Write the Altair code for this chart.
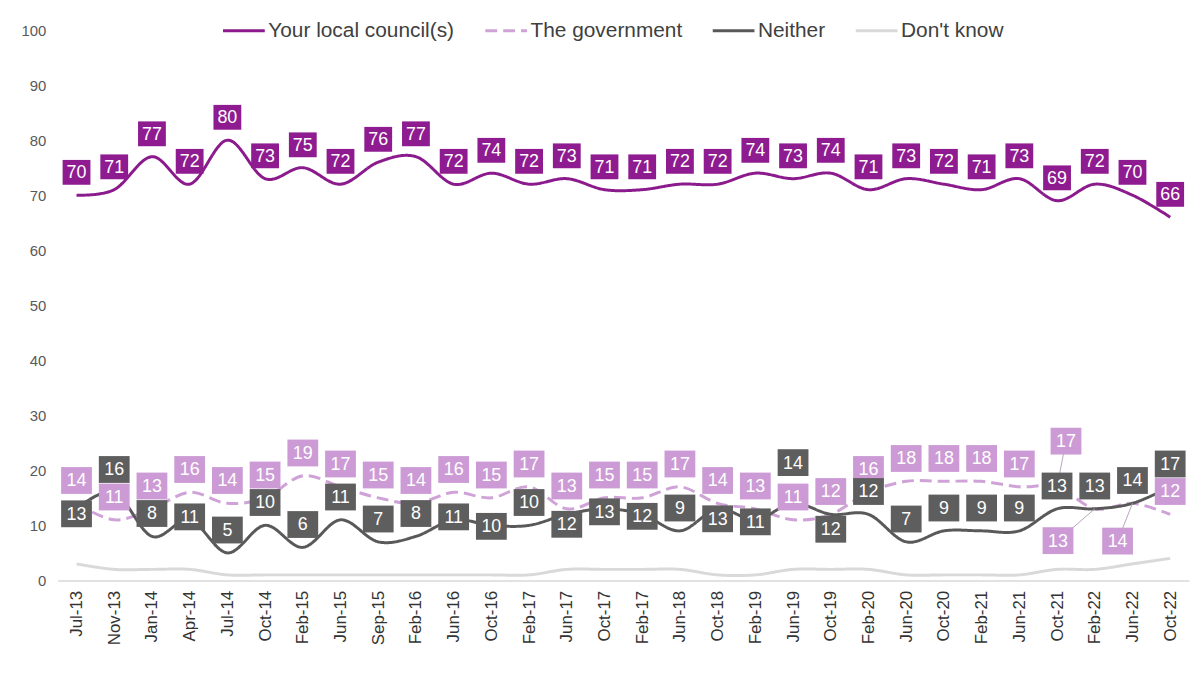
import json
import altair as alt
import pandas as pd

# ---------------- data ----------------
months = ["Jul-13", "Nov-13", "Jan-14", "Apr-14", "Jul-14", "Oct-14", "Feb-15", "Jun-15",
          "Sep-15", "Feb-16", "Jun-16", "Oct-16", "Feb-17", "Jun-17", "Oct-17", "Feb-17",
          "Jun-18", "Oct-18", "Feb-19", "Jun-19", "Oct-19", "Feb-20", "Jun-20", "Oct-20",
          "Feb-21", "Jun-21", "Oct-21", "Feb-22", "Jun-22", "Oct-22"]

council = [70, 71, 77, 72, 80, 73, 75, 72, 76, 77, 72, 74, 72, 73, 71, 71, 72, 72, 74, 73,
           74, 71, 73, 72, 71, 73, 69, 72, 70, 66]
government = [14, 11, 13, 16, 14, 15, 19, 17, 15, 14, 16, 15, 17, 13, 15, 15, 17, 14, 13, 11,
              12, 16, 18, 18, 18, 17, 17, 13, 14, 12]
neither = [13, 16, 8, 11, 5, 10, 6, 11, 7, 8, 11, 10, 10, 12, 13, 12, 9, 13, 11, 14,
           12, 12, 7, 9, 9, 9, 13, 13, 14, 17]
dont_know = [3, 2, 2, 2, 1, 1, 1, 1, 1, 1, 1, 1, 1, 2, 2, 2, 2, 1, 1, 2,
             2, 2, 1, 1, 1, 1, 2, 2, 3, 4]

SERIES = ["Your local council(s)", "The government", "Neither", "Don't know"]

# ---------------- styling ----------------
W, H = 1139, 554
BAND_PX = W / len(months)
PX_PER_UNIT = H / 100.0
LINE_COLORS = ["#8B1A8C", "#CFA3D7", "#595959", "#D9D9D9"]
LINE_DASH = [[1, 0], [12, 6], [1, 0], [1, 0]]
LINE_WIDTH = [3, 3, 2.8, 2.8]
BOX_COLORS = {"Your local council(s)": "#8E1B8F", "The government": "#CC9BD5", "Neither": "#5E5E5E"}
DEFAULT_DY = -23  # label boxes sit above their point (pixels)
# pixel nudges for the data labels that were moved in the original
label_nudge = {
    "Neither": {0: (0, 5), 3: (0, -3), 10: (0, -3), 11: (0, 1), 13: (0, 10), 14: (0, 3),
                15: (0, 2), 17: (0, 10), 18: (0, 2), 19: (0, -41), 20: (0, 15)},
    "The government": {26: (9, -46), 27: (-37, 32), 28: (-15, 38)},
}
leader_labels = {"The government": [26, 27, 28]}

series_values = {"Your local council(s)": council, "The government": government,
                 "Neither": neither, "Don't know": dont_know}

lines_rows = []
for s in SERIES:
    for i, v in enumerate(series_values[s]):
        lines_rows.append({"i": i, "value": v, "series": s})
lines_df = pd.DataFrame(lines_rows)


def label_df(s):
    rows = []
    for i, v in enumerate(series_values[s]):
        dx, dy = label_nudge.get(s, {}).get(i, (0, DEFAULT_DY))
        rows.append({"i": i, "value": v, "lx": i + dx / BAND_PX, "ly": v - dy / PX_PER_UNIT,
                     "txt": str(v), "fill": BOX_COLORS[s]})
    return pd.DataFrame(rows)


x_axis = alt.Axis(values=list(range(len(months))),
                  labelExpr=json.dumps(months) + "[datum.value]",
                  labelAngle=270, labelFontSize=17, labelColor="#333333", labelPadding=10,
                  ticks=False, domainColor="#D9D9D9", domainWidth=1.5, grid=False, title=None)
x_scale = alt.Scale(domain=[-0.5, len(months) - 0.5], nice=False, zero=False)
y_axis = alt.Axis(values=list(range(0, 101, 10)), grid=False, domain=False, ticks=False,
                  labelPadding=12, labelFontSize=15, labelColor="#595959", title=None)
y_scale = alt.Scale(domain=[0, 100], nice=False)

legend_kw = dict(title=None, orient="none", legendX=165, legendY=-22, direction="horizontal",
                 symbolType="stroke", symbolSize=1764, symbolStrokeWidth=3,
                 labelFontSize=21, labelColor="#404040", labelOffset=2, columnPadding=24,
                 labelLimit=0, padding=0)

lines = alt.Chart(lines_df).mark_line(interpolate="cardinal").encode(
    x=alt.X("i:Q", scale=x_scale, axis=x_axis),
    y=alt.Y("value:Q", scale=y_scale, axis=y_axis),
    color=alt.Color("series:N", scale=alt.Scale(domain=SERIES, range=LINE_COLORS),
                    legend=alt.Legend(**legend_kw)),
    strokeDash=alt.StrokeDash("series:N", scale=alt.Scale(domain=SERIES, range=LINE_DASH),
                              legend=alt.Legend(**legend_kw)),
    strokeWidth=alt.StrokeWidth("series:N", scale=alt.Scale(domain=SERIES, range=LINE_WIDTH),
                                legend=None),
    order=alt.Order("i:Q"),
)

# leader lines
lead_rows = []
for s, idxs in leader_labels.items():
    ldf = label_df(s)
    for i in idxs:
        r = ldf.iloc[i]
        lead_rows.append({"i": r["i"], "value": r["value"], "lx": r["lx"], "ly": r["ly"]})
leaders = alt.Chart(pd.DataFrame(lead_rows)).mark_rule(color="#B5A5B8", strokeWidth=1).encode(
    x=alt.X("i:Q", scale=x_scale, axis=x_axis),
    y=alt.Y("value:Q", scale=y_scale, axis=y_axis),
    x2="lx:Q", y2="ly:Q",
)


def label_layers(s, bw, bh):
    df = label_df(s)
    a = bw / bh
    path = f"M{-a},-1H{a}V1H{-a}Z"
    base = alt.Chart(df).encode(
        x=alt.X("lx:Q", scale=x_scale, axis=x_axis),
        y=alt.Y("ly:Q", scale=y_scale, axis=y_axis),
    )
    boxes = base.mark_point(shape=path, filled=True, size=bh * bh, opacity=1,
                            strokeWidth=0).encode(fill=alt.Fill("fill:N", scale=None))
    texts = base.mark_text(color="white", fontSize=18, align="center", baseline="middle",
                           dy=1).encode(text="txt:N")
    return [boxes, texts]


layers = [lines, leaders]
layers += label_layers("The government", 31, 27)
layers += label_layers("Neither", 31, 27)
layers += label_layers("Your local council(s)", 28, 25)

chart = alt.layer(*layers).properties(
    width=W, height=H,
    autosize=alt.AutoSizeParams(type="none"),
    padding={"left": 50, "top": 20, "right": 6, "bottom": 92},
).configure(font="Liberation Sans", background="white").configure_view(strokeWidth=0)

chart.save("out.html", embed_options={"renderer": "svg", "actions": False})
